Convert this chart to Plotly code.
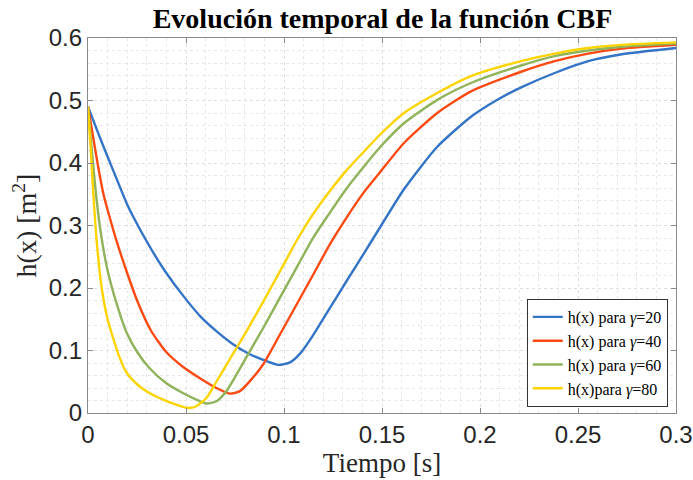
import plotly.graph_objects as go

# Sampled h(x) trajectories for each CBF gain gamma
t_g20 = [0.0, 0.0053, 0.01, 0.0156, 0.0198, 0.0241, 0.0297, 0.0344, 0.0395, 0.0492, 0.0578,
         0.0655, 0.074, 0.0826, 0.0911, 0.0971, 0.1031, 0.1082, 0.1133, 0.1236, 0.1321, 0.1407,
         0.1492, 0.1612, 0.1782, 0.1954, 0.2082, 0.221, 0.2381, 0.2552, 0.2724, 0.3]
h_g20 = [0.49, 0.447, 0.41, 0.367, 0.335, 0.308, 0.276, 0.251, 0.226, 0.185, 0.153,
         0.131, 0.110, 0.094, 0.083, 0.077, 0.081, 0.095, 0.117, 0.169, 0.212, 0.255,
         0.298, 0.358, 0.426, 0.474, 0.500, 0.521, 0.544, 0.563, 0.574, 0.584]

t_g40 = [0.0, 0.0027, 0.0053, 0.0079, 0.0108, 0.015, 0.0202, 0.0253, 0.0321, 0.0398, 0.0484,
         0.0569, 0.0655, 0.0723, 0.0775, 0.0826, 0.0894, 0.098, 0.1065, 0.115, 0.1236, 0.1321,
         0.1407, 0.1492, 0.1612, 0.1782, 0.1954, 0.221, 0.2381, 0.2552, 0.2724, 0.3]
h_g40 = [0.49, 0.44, 0.392, 0.35, 0.316, 0.271, 0.222, 0.178, 0.132, 0.098, 0.074,
         0.056, 0.040, 0.031, 0.035, 0.051, 0.078, 0.126, 0.174, 0.222, 0.271, 0.3135,
         0.353, 0.386, 0.432, 0.480, 0.5145, 0.546, 0.563, 0.575, 0.583, 0.589]

t_g60 = [0.0, 0.0019, 0.0036, 0.0062, 0.01, 0.0156, 0.0198, 0.025, 0.0313, 0.0398, 0.0484,
         0.0552, 0.0604, 0.0655, 0.0706, 0.0758, 0.0826, 0.0894, 0.098, 0.1065, 0.115, 0.1236,
         0.1321, 0.1407, 0.1492, 0.1612, 0.1782, 0.1954, 0.221, 0.2381, 0.2552, 0.2724, 0.3]
h_g60 = [0.49, 0.422, 0.365, 0.295, 0.228, 0.165, 0.128, 0.098, 0.072, 0.048, 0.032,
         0.0215, 0.0151, 0.0188, 0.0349, 0.0617, 0.099, 0.136, 0.185, 0.233, 0.281, 0.3215,
         0.36, 0.394, 0.426, 0.4636, 0.501, 0.528, 0.556, 0.571, 0.580, 0.586, 0.591]

t_g80 = [0.0, 0.0015, 0.0027, 0.0044, 0.007, 0.01, 0.0156, 0.0198, 0.025, 0.0313, 0.0398,
         0.045, 0.0509, 0.0552, 0.0604, 0.0655, 0.0706, 0.0758, 0.0809, 0.0894, 0.098, 0.1065,
         0.115, 0.1236, 0.1321, 0.1407, 0.1492, 0.1612, 0.1782, 0.1954, 0.221, 0.2381, 0.2552,
         0.2724, 0.3]
h_g80 = [0.49, 0.415, 0.352, 0.276, 0.2, 0.15, 0.093, 0.064, 0.046, 0.032, 0.0195,
         0.0135, 0.008, 0.0108, 0.0241, 0.050, 0.077, 0.104, 0.131, 0.178, 0.227, 0.276,
         0.319, 0.356, 0.389, 0.418, 0.446, 0.480, 0.512, 0.539, 0.563, 0.575, 0.584,
         0.589, 0.593]

series_names = ["h(x) para <i>γ</i>=20", "h(x) para <i>γ</i>=40",
                "h(x) para <i>γ</i>=60", "h(x)para <i>γ</i>=80"]
series_colors = ["#3474c6", "#fb4a12", "#8fb35a", "#fdd300"]

x_ticks = [0, 0.05, 0.1, 0.15, 0.2, 0.25, 0.3]
x_tick_text = ["0", "0.05", "0.1", "0.15", "0.2", "0.25", "0.3"]
y_ticks = [0, 0.1, 0.2, 0.3, 0.4, 0.5, 0.6]
y_tick_text = ["0", "0.1", "0.2", "0.3", "0.4", "0.5", "0.6"]

fig = go.Figure()
for t, h, name, color in zip([t_g20, t_g40, t_g60, t_g80],
                             [h_g20, h_g40, h_g60, h_g80],
                             series_names, series_colors):
    fig.add_trace(go.Scatter(x=t, y=h, mode="lines", name=name,
                             line=dict(color=color, width=2.4, shape="spline", smoothing=0.6)))

axis_common = dict(
    showline=True, linecolor="#8a8a8a", linewidth=1.2, mirror="ticks",
    ticks="inside", ticklen=5, tickcolor="#8a8a8a",
    showgrid=True, gridcolor="#dedede", griddash="dot", gridwidth=1,
    zeroline=False, automargin=False,
    tickfont=dict(family="Liberation Sans, Arial", size=24, color="#262626"),
)

fig.update_xaxes(range=[0, 0.3], tickvals=x_ticks, ticktext=x_tick_text,
                 minor=dict(dtick=0.01, showgrid=True, gridcolor="#e8e8e8", griddash="dot"),
                 title=dict(text="Tiempo [s]", standoff=4,
                            font=dict(family="Liberation Serif, Times New Roman", size=27, color="#262626")),
                 **axis_common)
fig.update_yaxes(range=[0, 0.6], tickvals=y_ticks, ticktext=y_tick_text,
                 minor=dict(dtick=0.02, showgrid=True, gridcolor="#e8e8e8", griddash="dot"),
                 title=dict(text="h(x) [m<sup>2</sup>]", standoff=3,
                            font=dict(family="Liberation Serif, Times New Roman", size=28, color="#262626")),
                 **axis_common)

fig.update_layout(
    width=693, height=480,
    margin=dict(l=88, r=17, t=38, b=67),
    paper_bgcolor="white", plot_bgcolor="white",
    title=dict(text="<b>Evolución temporal de la función CBF</b>", x=0.552, xanchor="center",
               y=0.963, yanchor="middle",
               font=dict(family="Liberation Serif, Times New Roman", size=28, color="black")),
    legend=dict(x=0.986, y=0.016, xanchor="right", yanchor="bottom",
                bgcolor="white", bordercolor="#333333", borderwidth=1,
                font=dict(family="Liberation Serif, Times New Roman", size=16, color="black"),
                tracegroupgap=0),
    showlegend=True,
)

fig.write_html("out.html")
